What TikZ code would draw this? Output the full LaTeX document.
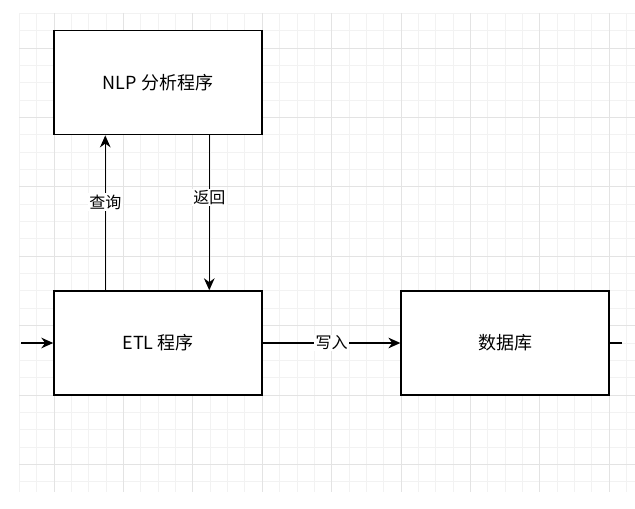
\documentclass[tikz,border=0pt]{standalone}
\usepackage{fontspec}
\setmainfont{Noto Sans CJK SC}
\usetikzlibrary{arrows.meta}
\tikzset{
  box/.style={rectangle, draw, line width=1.1pt, minimum width=156pt, minimum height=78pt, font=\fontsize{13.5}{16}\selectfont},
  arrow/.style={line width=1.1pt, -{Stealth[length=9pt,width=8pt]}},
  lbl/.style={fill=white, inner sep=1pt, font=\fontsize{12}{14}\selectfont}
}
\begin{document}
\begin{tikzpicture}[x=0.75pt, y=-0.75pt]
  \useasboundingbox (0,0) rectangle (635,509);
  % grid
  \foreach \i in {0,...,35} {
    \draw[gray!10, line width=0.6pt] (19.3+17.35*\i,13) -- (19.3+17.35*\i,492);
  }
  \foreach \i in {0,...,27} {
    \draw[gray!10, line width=0.6pt] (19.3,13.3+17.35*\i) -- (635,13.3+17.35*\i);
  }
  \foreach \i in {0,...,8} {
    \draw[gray!22, line width=0.6pt] (54+69.4*\i,13) -- (54+69.4*\i,492);
  }
  \foreach \i in {0,...,6} {
    \draw[gray!22, line width=0.6pt] (19.3,48+69.4*\i) -- (635,48+69.4*\i);
  }

  \node (nlp) [box, fill=white] at (158,82.7) {NLP 分析程序};
  \node (etl) [box, fill=white] at (158,343) {ETL 程序};
  \node (db) [box, fill=white] at (505.1,343) {数据库};

  \coordinate (in) at (21,343);
  \coordinate (out) at (622,343);

  \draw [arrow] (in) -- (etl);
  \draw [line width=1.1pt] (db) -- (out);
  \draw [arrow] (etl) -- node[lbl] {写入} (db);
  \draw [arrow] (etl.south west |- etl.north) ++(52,0) coordinate (q0)
        -- (q0 |- nlp.south) node[lbl, pos=0.57] {查询};
  \draw [arrow] (nlp.south west) ++(156,0) coordinate (r0)
        -- (r0 |- etl.north) node[lbl, pos=0.4] {返回};
\end{tikzpicture}
\end{document}
